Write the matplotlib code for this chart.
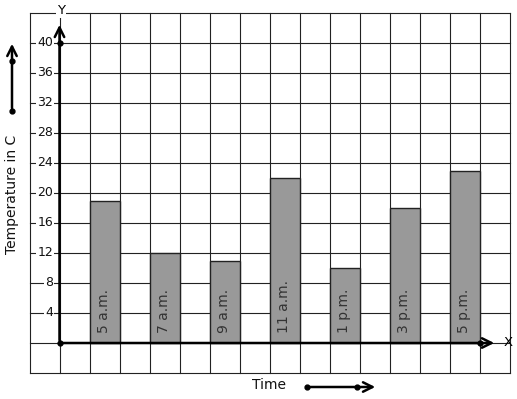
import numpy as np
import matplotlib
matplotlib.use("Agg")
import matplotlib.pyplot as plt

# data
times = ["5 a.m.", "7 a.m.", "9 a.m.", "11 a.m.", "1 p.m.", "3 p.m.", "5 p.m."]
temps = [19, 12, 11, 22, 10, 18, 23]
bar_left = [1, 3, 5, 7, 9, 11, 13]
yticks = [4, 8, 12, 16, 20, 24, 28, 32, 36, 40]

W, H = 517, 399
fig = plt.figure(figsize=(W / 100, H / 100), dpi=100)
ax = fig.add_axes([0, 0, 1, 1])
ax.set_axis_off()

# pixel -> data mapping: origin at (59.5, 343), 30 px per x unit, 7.5 px per temp unit
ox, oy = 59.5, 343
ax.set_xlim(-ox / 30, (W - ox) / 30)
ax.set_ylim(-(H - oy) / 7.5, oy / 7.5)

def px(x, y):
    return ((x - ox) / 30, (oy - y) / 7.5)

# grid
gc = "#222222"
for gx in range(-1, 16):
    ax.plot([gx, gx], [-4, 44], color=gc, lw=0.8, zorder=1)
for gy in range(-4, 45, 4):
    ax.plot([-1, 15], [gy, gy], color=gc, lw=0.8, zorder=1)

# bars
ax.bar(bar_left, temps, width=1, align="edge", color="#999999",
       edgecolor="#222222", lw=1, zorder=2)
for x, t in zip(bar_left, times):
    ax.text(x + 0.47, 1.3, t, rotation=90, ha="center", va="bottom",
            fontsize=10, color="#333333", zorder=3)

# axes lines with arrows
arrow = dict(arrowstyle="->", lw=1.8, color="black", mutation_scale=17)
ax.annotate("", xy=(0, 42.8), xytext=(0, 0), arrowprops=arrow, zorder=4)
ax.annotate("", xy=px(497, 343), xytext=(0, 0), arrowprops=arrow, zorder=4)
ax.plot([0, 0, 14], [0, 40, 0], "o", color="black", ms=3.5, zorder=5)

# tick labels
for t in yticks:
    ax.text(*px(53, oy - t * 7.5), str(t), ha="right", va="center", fontsize=9,
            color="#111111", zorder=3,
            bbox=dict(boxstyle="square,pad=0.08", fc="white", ec="none"))

ax.text(*px(61, 10), "Y", ha="center", va="center", fontsize=9.5,
        bbox=dict(boxstyle="square,pad=0.1", fc="white", ec="none"), zorder=3)
ax.text(*px(508.5, 342), "X", ha="center", va="center", fontsize=9.5, zorder=3)

# y label with arrow
ax.text(*px(12.5, 194), "Temperature in C", rotation=90, ha="center", va="center",
        fontsize=10, color="#111111")
ax.annotate("", xy=px(12, 41), xytext=px(12, 111), arrowprops=arrow,
            annotation_clip=False)
ax.plot(*zip(px(12, 111), px(12, 61)), "o", ls="none", color="black", ms=3.5)

# x label with arrow
ax.text(*px(269.5, 385), "Time", ha="center", va="center", fontsize=10,
        color="#111111")
ax.annotate("", xy=px(378, 387), xytext=px(307, 387), arrowprops=arrow,
            annotation_clip=False)
ax.plot(*zip(px(307, 387), px(357, 387)), "o", ls="none", color="black", ms=3.5)

fig.savefig("out.png", dpi=100)
